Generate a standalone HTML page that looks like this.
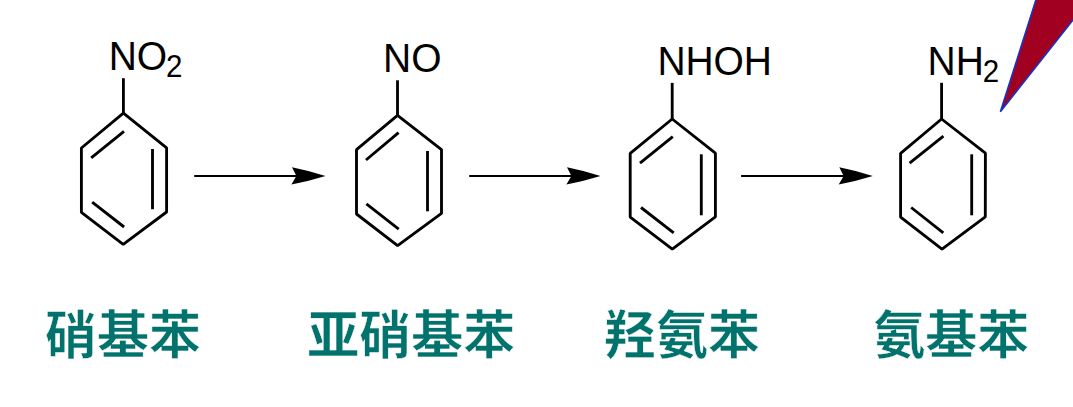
<!DOCTYPE html>
<html lang="zh-CN">
<head>
<meta charset="utf-8">
<title>硝基苯还原</title>
<style>
html,body{margin:0;padding:0;background:#fff;}
body{width:1073px;height:407px;overflow:hidden;}
svg{display:block;}
.bond line,.bond polygon{stroke:#000;stroke-width:2.85;fill:none;stroke-linecap:butt;stroke-linejoin:bevel;}
.bond path.ah{fill:#000;stroke:none;}
.atom text{font-family:"Liberation Sans",sans-serif;font-size:39px;fill:#000;}
.atom text.sub{font-size:29.5px;}
.cn text{font-family:"Liberation Sans","Noto Sans CJK SC",sans-serif;font-weight:bold;font-size:52px;fill:#02726D;stroke:#fff;stroke-width:0.5px;paint-order:fill stroke;}
</style>
</head>
<body>
<svg width="1073" height="407" viewBox="0 0 1073 407">
<g class="bond">
<polygon points="123.40,113.20 166.60,147.90 166.60,212.00 123.20,244.40 81.40,212.30 81.40,148.00"/>
<line x1="152.50" y1="149.00" x2="152.50" y2="209.20"/>
<line x1="91.20" y1="157.90" x2="124.00" y2="131.30"/>
<line x1="92.20" y1="202.20" x2="124.10" y2="227.00"/>
<line x1="123.40" y1="78.20" x2="123.40" y2="114.40"/>

<polygon points="397.50,115.40 441.50,149.60 441.50,213.40 397.60,245.60 356.50,214.00 356.50,149.70"/>
<line x1="427.50" y1="151.00" x2="427.50" y2="211.30"/>
<line x1="366.00" y1="160.00" x2="398.60" y2="132.60"/>
<line x1="366.40" y1="203.90" x2="398.70" y2="229.10"/>
<line x1="397.50" y1="80.30" x2="397.50" y2="116.60"/>

<polygon points="672.20,119.00 715.40,153.20 715.40,216.80 672.30,249.20 630.20,217.10 630.20,153.30"/>
<line x1="701.30" y1="154.30" x2="701.30" y2="215.30"/>
<line x1="640.00" y1="163.20" x2="672.80" y2="136.60"/>
<line x1="641.00" y1="207.50" x2="673.70" y2="232.90"/>
<line x1="672.20" y1="82.90" x2="672.20" y2="120.20"/>

<polygon points="941.60,119.00 985.40,153.20 985.30,216.80 942.00,249.10 900.60,217.20 900.60,153.30"/>
<line x1="971.70" y1="154.30" x2="971.70" y2="215.30"/>
<line x1="909.60" y1="163.20" x2="943.40" y2="136.20"/>
<line x1="911.20" y1="207.50" x2="943.30" y2="232.90"/>
<line x1="941.60" y1="82.80" x2="941.60" y2="120.20"/>

<line x1="194.2" y1="176.0" x2="298.5" y2="176.0" style="stroke-width:1.9"/>
<path class="ah" d="M325.5,176.0 Q309.00,170.75 292.0,167.3 L296.4,176.0 L291.4,184.6 Q308.70,181.20 325.5,176.0 Z"/>

<line x1="469.2" y1="176.0" x2="573.5" y2="176.0" style="stroke-width:1.9"/>
<path class="ah" d="M600.5,176.0 Q584.00,170.75 567.0,167.3 L571.4,176.0 L566.4,184.6 Q583.70,181.20 600.5,176.0 Z"/>

<line x1="741.1" y1="176.0" x2="845.8" y2="176.0" style="stroke-width:1.9"/>
<path class="ah" d="M872.8,176.0 Q856.30,170.75 839.3,167.3 L843.7,176.0 L838.7,184.6 Q856.00,181.20 872.8,176.0 Z"/>

</g>
<polygon points="1000.4,111.7 1036.2,-1 1080,-1 1080,11.2" fill="#A20021" stroke="#1434C8" stroke-width="1.6" stroke-linejoin="miter"/>
<g class="atom">
<text transform="translate(108.7,70) scale(1,1.035)">NO</text>
<text class="sub" transform="translate(166.0,77) scale(1,1.06)">2</text>

<text transform="translate(383,72.1) scale(1,1.035)">NO</text>

<text style="letter-spacing:-0.2px" transform="translate(657.6,75.3) scale(1,1.035)">NHOH</text>

<text transform="translate(927.5,74.6) scale(1,1.035)">NH</text>
<text class="sub" transform="translate(982.8,81.6) scale(1,1.06)">2</text>

</g>
<g class="cn">
<text x="45" y="354">硝基苯</text>
<text x="307.3" y="354">亚硝基苯</text>
<text x="604" y="354">羟氨苯</text>
<text x="873.2" y="354">氨基苯</text>
</g>
</svg>
</body>
</html>
